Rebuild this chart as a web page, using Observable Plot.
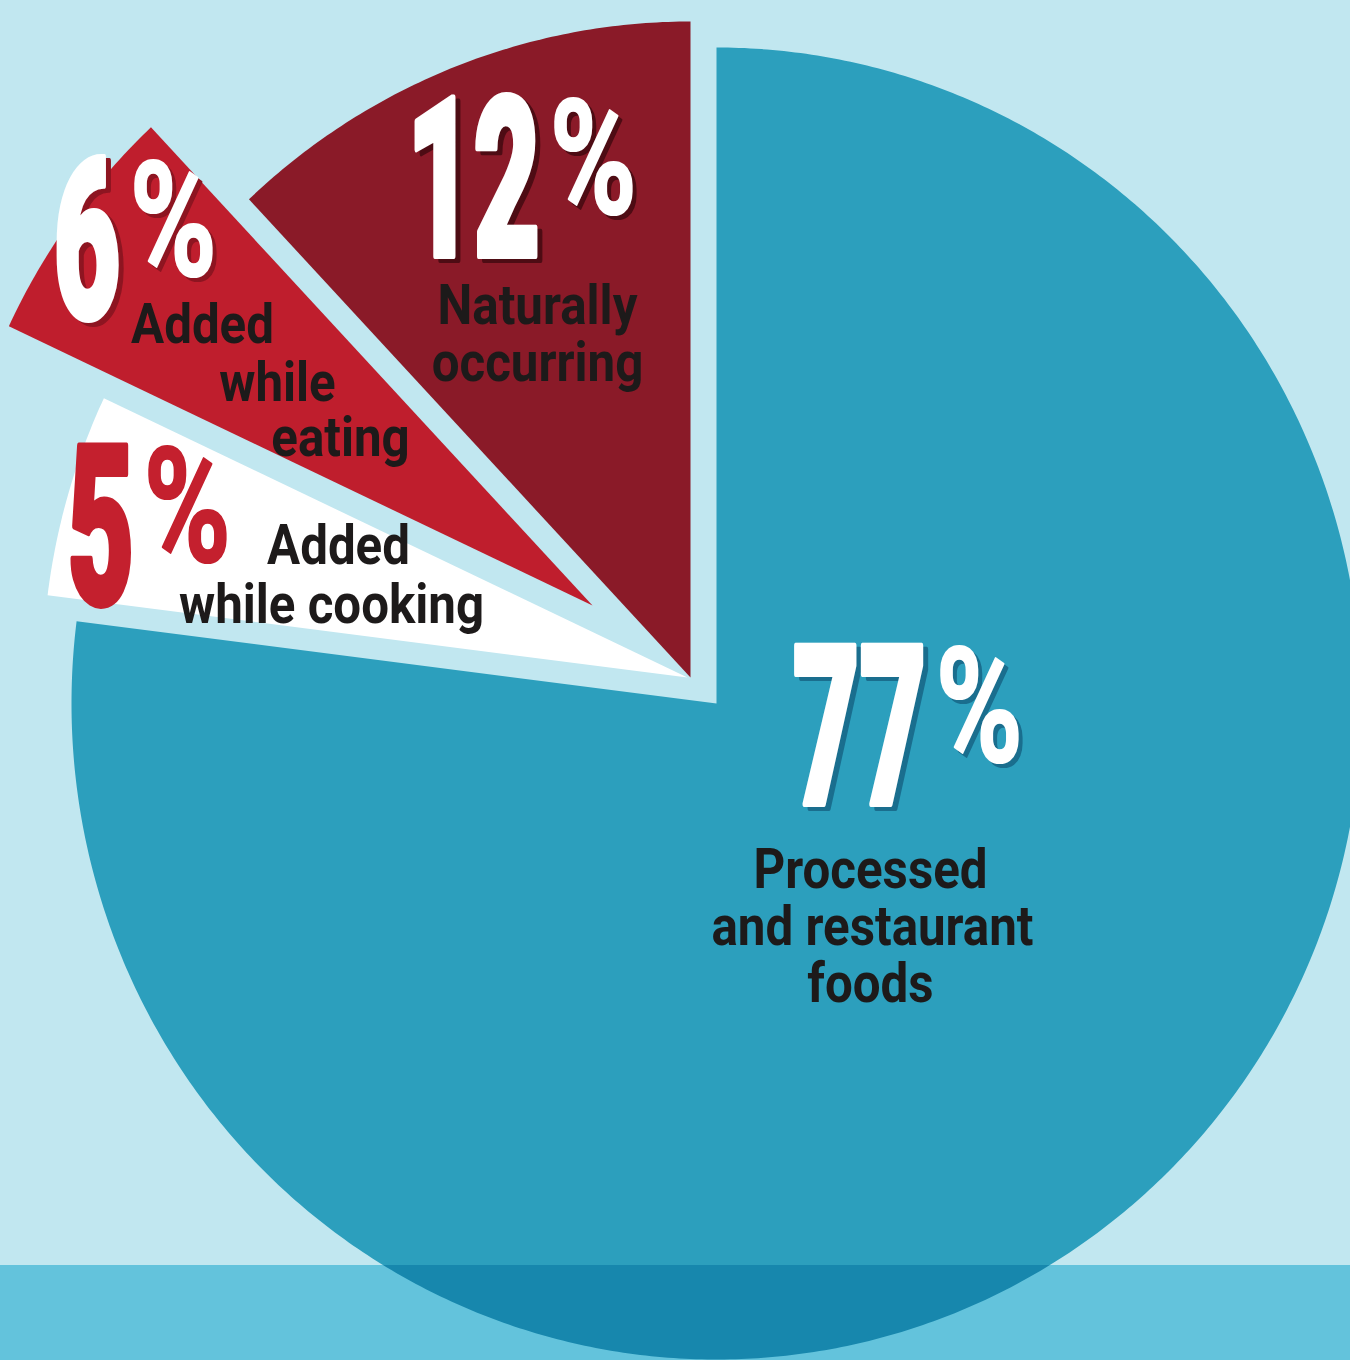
<!DOCTYPE html>
<html><head><meta charset="utf-8">
<script src="https://cdn.jsdelivr.net/npm/d3@7"></script>
<script src="https://cdn.jsdelivr.net/npm/@observablehq/plot@0.6"></script>
<style>
html,body{margin:0;padding:0;background:#c1e7f0;overflow:hidden;}
#chart svg{display:block}
</style></head><body><div id="chart"></div>
<script>
// ---- data ----
const categories = ["Processed and restaurant foods", "Added while cooking", "Added while eating", "Naturally occurring"];
const values = [77, 5, 6, 12];
const labelLines = [["Processed", "and restaurant", "foods"], ["Added", "while cooking"], ["Added", "while", "eating"], ["Naturally", "occurring"]];

// ---- styles ----
const bg = "#c1e7f0";
const bandMultiply = "#82d8ea";
const sliceColors = ["#2c9fbd", "#ffffff", "#bf1e2d", "#8a1a28"];
const numberColors = ["#ffffff", "#c4202e", "#ffffff", "#ffffff"];
const shadowColors = ["#1a6e8e", null, "#8e1521", "#4e0c14"];
const textColor = "#1d1a1a";

// ---- layout (pixels) ----
const W = 1350, H = 1360, CX = 716, CY = 703, RX = 645, RY = 656, BAND_TOP = 1265;
const explodePx = [[0, 0], [-29, -26], [-124, -98], [-26, -26]];
const junctionPx = [[210, 100], [-553, -74], [-472, -288], [-150, -422]];
const linePx = [
  [[154, 184], [156, 241], [154, 298]],
  [[-349, -114], [-356, -55]],
  [[-390, -263], [-315, -205], [-252, -150]],
  [[-153, -354], [-153, -297]]
];

const total = d3.sum(values);
let cum = 0;
const slices = values.map((v, i) => {
  const a0 = cum / total * 360; cum += v; const a1 = cum / total * 360;
  return {i, name: categories[i], a0, a1, ox: explodePx[i][0] / RX, oy: -explodePx[i][1] / RY};
});
const pts = [];
for (const s of slices) {
  pts.push({i: s.i, x: s.ox, y: s.oy});
  const n = Math.ceil((s.a1 - s.a0) * 2);
  for (let k = 0; k <= n; k++) {
    const a = (s.a0 + (s.a1 - s.a0) * k / n) * Math.PI / 180;
    pts.push({i: s.i, x: s.ox + Math.sin(a), y: s.oy + Math.cos(a)});
  }
  pts.push({i: s.i, x: s.ox, y: s.oy});
}
const numData = slices.map((s, i) => ({
  i, x: s.ox + junctionPx[i][0] / RX, y: s.oy - junctionPx[i][1] / RY,
  num: String(values[i]), color: numberColors[i], shadow: shadowColors[i]
}));
const shadowData = numData.filter(d => d.shadow);
const lineData = [];
slices.forEach((s, i) => labelLines[i].forEach((t, j) => lineData.push({
  i, text: t, x: s.ox + linePx[i][j][0] / RX, y: s.oy - linePx[i][j][1] / RY
})));

const xd = [-CX / RX, (W - CX) / RX], yd = [(CY - H) / RY, CY / RY];
const numOpts = {x: "x", y: "y", text: "num", textAnchor: "end", lineAnchor: "bottom", fontSize: 222, fontFamily: "Roboto", fontWeight: 900, strokeWidth: 6, paintOrder: "stroke"};
const pctOpts = {x: "x", y: "y", text: () => "%", textAnchor: "start", lineAnchor: "bottom", fontSize: 160, fontFamily: "Roboto", fontWeight: 700, strokeWidth: 2, paintOrder: "stroke"};

const chart = Plot.plot({
  width: W, height: H, margin: 0,
  x: {domain: xd, axis: null}, y: {domain: yd, axis: null},
  color: {type: "identity"},
  style: {background: bg},
  marks: [
    Plot.frame({fill: bg, stroke: "none"}),
    Plot.line(pts, {x: "x", y: "y", z: "i", fill: d => sliceColors[d.i], stroke: "none", curve: "linear"}),
    Plot.rect([0], {x1: xd[0] - 0.1, x2: xd[1] + 0.1, y1: yd[0] - 0.1, y2: (CY - BAND_TOP) / RY, fill: bandMultiply, mixBlendMode: "multiply"}),
    Plot.text(shadowData, {...numOpts, fill: "shadow", stroke: "shadow", dx: 5, dy: 4}),
    Plot.text(numData, {...numOpts, fill: "color", stroke: "color"}),
    Plot.text(shadowData, {...pctOpts, fill: "shadow", stroke: "shadow", dx: 13, dy: -39}),
    Plot.text(numData, {...pctOpts, fill: "color", stroke: "color", dx: 9, dy: -43}),
    Plot.text(lineData, {x: "x", y: "y", text: "text", textAnchor: "middle", lineAnchor: "bottom", fontSize: 56, fontFamily: "Roboto", fontWeight: 700, fill: textColor})
  ]
});
// horizontal condensing per text mark (in mark order)
const groupScale = [0.52, 0.52, 0.74, 0.74, 0.88];
const textGroups = chart.querySelectorAll('g[aria-label="text"]');
textGroups.forEach((g, gi) => {
  const s = groupScale[gi] ?? 1;
  g.querySelectorAll("text").forEach(t => {
    let tr = t.getAttribute("transform");
    if (!tr) {
      const x = t.getAttribute("x") || 0, y = t.getAttribute("y") || 0;
      tr = `translate(${x},${y})`; t.removeAttribute("x"); t.removeAttribute("y");
    }
    t.setAttribute("transform", tr + ` scale(${s},1)`);
  });
});
document.getElementById("chart").appendChild(chart);
</script>
</body></html>
